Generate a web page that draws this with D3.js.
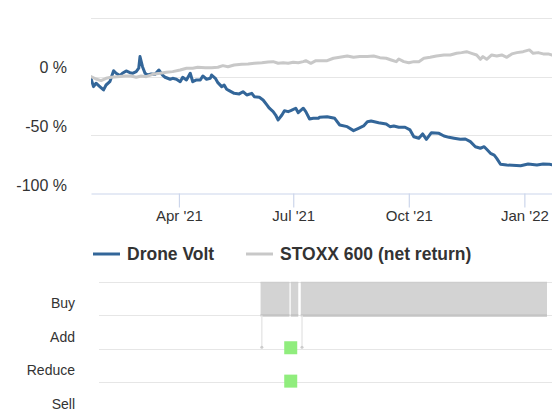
<!DOCTYPE html>
<html><head><meta charset="utf-8">
<script src="https://cdn.jsdelivr.net/npm/d3@7"></script>
<style>body{margin:0;background:#fff;overflow:hidden} svg{display:block;font-family:"Liberation Sans",Arial,sans-serif}</style>
</head><body><svg id="c" width="552" height="410"></svg>
<script>
const droneDates = ["2021-01-21","2021-01-23","2021-01-25","2021-01-28","2021-01-31","2021-02-02","2021-02-05","2021-02-08","2021-02-10","2021-02-13","2021-02-15","2021-02-18","2021-02-21","2021-02-23","2021-02-26","2021-02-28","2021-03-01","2021-03-03","2021-03-05","2021-03-07","2021-03-10","2021-03-13","2021-03-16","2021-03-19","2021-03-21","2021-03-25","2021-03-27","2021-03-30","2021-04-02","2021-04-04","2021-04-07","2021-04-10","2021-04-12","2021-04-15","2021-04-18","2021-04-20","2021-04-23","2021-04-26","2021-04-27","2021-04-30","2021-05-02","2021-05-05","2021-05-07","2021-05-09","2021-05-11","2021-05-15","2021-05-19","2021-05-22","2021-05-25","2021-05-29","2021-05-31","2021-06-04","2021-06-07","2021-06-10","2021-06-12","2021-06-15","2021-06-17","2021-06-19","2021-06-22","2021-06-24","2021-06-27","2021-06-29","2021-07-03","2021-07-05","2021-07-09","2021-07-11","2021-07-14","2021-07-17","2021-07-21","2021-07-22","2021-07-28","2021-08-03","2021-08-07","2021-08-13","2021-08-18","2021-08-22","2021-08-26","2021-08-29","2021-09-01","2021-09-07","2021-09-13","2021-09-16","2021-09-19","2021-09-23","2021-09-28","2021-10-02","2021-10-05","2021-10-09","2021-10-12","2021-10-15","2021-10-19","2021-10-25","2021-10-29","2021-11-02","2021-11-06","2021-11-11","2021-11-15","2021-11-19","2021-11-23","2021-11-27","2021-11-30","2021-12-02","2021-12-05","2021-12-08","2021-12-10","2021-12-13","2021-12-18","2021-12-29","2022-01-04","2022-01-11","2022-01-16","2022-01-21","2022-01-23"];
const droneValues = [-1.4,-8.5,-5.6,-8.5,-11.3,-7.1,-4.3,5.1,2.9,0.9,2.9,4.9,3.4,2.9,4.3,7.2,17.1,8.5,2.9,1.4,2.3,2.0,5.7,1.4,-0.5,-2.2,-1.4,-2.2,-4.3,-0.5,-2.8,2.9,-4.3,-2.8,-2.8,0.6,-2.2,-1.4,1.4,-1.4,-5.1,-8.5,-7.1,-10.7,-11.9,-14.2,-14.7,-12.8,-15.6,-14.2,-17.1,-17.6,-19.9,-24.1,-26.9,-29.8,-32.7,-36.9,-32.7,-29.0,-29.8,-29.0,-26.9,-30.7,-26.9,-29.8,-36.1,-35.5,-35.5,-34.6,-34.1,-35.5,-41.2,-42.6,-46.0,-44.0,-42.0,-38.4,-37.8,-39.2,-40.3,-42.6,-42.0,-43.1,-43.1,-45.4,-51.2,-52.5,-48.8,-53.4,-47.7,-48.3,-50.6,-51.7,-52.5,-53.4,-53.1,-55.4,-59.7,-61.0,-59.7,-61.9,-65.3,-66.8,-69.6,-74.7,-75.3,-75.9,-74.4,-75.3,-74.4,-74.7,-75.0];
const stoxxDates = ["2021-01-21","2021-01-25","2021-01-29","2021-02-02","2021-02-06","2021-02-11","2021-02-17","2021-02-22","2021-02-26","2021-03-02","2021-03-06","2021-03-11","2021-03-17","2021-03-22","2021-03-27","2021-04-02","2021-04-07","2021-04-12","2021-04-16","2021-04-22","2021-04-27","2021-05-02","2021-05-06","2021-05-10","2021-05-15","2021-05-21","2021-05-26","2021-05-31","2021-06-06","2021-06-11","2021-06-15","2021-06-19","2021-06-23","2021-06-27","2021-07-01","2021-07-05","2021-07-09","2021-07-11","2021-07-15","2021-07-19","2021-07-22","2021-07-28","2021-08-02","2021-08-07","2021-08-13","2021-08-18","2021-08-23","2021-08-29","2021-09-03","2021-09-08","2021-09-13","2021-09-17","2021-09-21","2021-09-23","2021-09-27","2021-10-01","2021-10-05","2021-10-09","2021-10-13","2021-10-18","2021-10-23","2021-10-29","2021-11-03","2021-11-08","2021-11-12","2021-11-16","2021-11-20","2021-11-24","2021-11-27","2021-11-29","2021-12-02","2021-12-06","2021-12-10","2021-12-14","2021-12-18","2021-12-22","2021-12-26","2021-12-31","2022-01-05","2022-01-08","2022-01-12","2022-01-16","2022-01-20","2022-01-23"];
const stoxxValues = [0,-2.0,-3.4,-1.4,-0.5,0,0.6,0.6,-0.5,0.6,0,2.0,2.9,3.8,4.3,5.7,7.2,7.2,8.0,7.7,7.7,8.0,9.4,8.5,10.0,10.6,10.8,11.4,11.9,12.5,12.8,11.4,11.9,11.4,12.3,11.9,12.8,13.6,11.4,13.6,13.6,13.6,15.7,16.5,17.6,16.5,17.1,17.1,17.6,16.2,15.7,14.2,12.8,15.1,12.8,11.9,12.8,12.8,15.7,16.5,17.6,18.5,18.5,19.9,20.5,21.3,19.9,18.5,14.8,17.1,14.8,18.5,17.6,18.5,16.5,19.4,20.5,21.3,22.8,19.9,20.5,19.4,19.4,18.5];
const seriesNames = ["Drone Volt","STOXX 600 (net return)"];
const seriesColors = ["#336699","#c8c8c8"];
const yTicks = [50, 0, -50, -100];
const yTickLabels = ["", "0 %", "-50 %", "-100 %"];
const xTicks = ["2021-04-01","2021-07-01","2021-10-01","2022-01-01"];
const xTickLabels = ["Apr '21","Jul '21","Oct '21","Jan '22"];
const ratingCategories = ["Buy","Add","Reduce","Sell"];
const ratingLevels = [1,2,3,4];
const ratingSegStart = ["2021-06-05","2021-06-29","2021-07-07"];
const ratingSegEnd = ["2021-06-28","2021-07-05","2022-01-19"];
const ratingSegLevel = [1,1,1];
const ratingDropDates = ["2021-06-06","2021-07-08"];
const eventDates = ["2021-06-29","2021-06-29"];
const eventLevels = [2,3];

const parse = d3.utcParse("%Y-%m-%d");
const svg = d3.select("#c");
const x = d3.scaleUtc().domain([parse("2021-01-21"), parse("2022-01-23")]).range([91, 552]);
const y = d3.scaleLinear().domain([-100, 50]).range([194, 18]);
const yr = d3.scaleLinear().domain([0, 4]).range([282, 415.5]);

// top gridlines
svg.append("g").selectAll("line").data(yTicks.slice(0,3)).join("line")
  .attr("x1", 91).attr("x2", 552).attr("y1", d => Math.round(y(d)) + 0.5).attr("y2", d => Math.round(y(d)) + 0.5)
  .attr("stroke", "#e6e6e6").attr("stroke-width", 1);
// y labels
svg.append("g").selectAll("text").data(yTicks).join("text")
  .attr("x", 67).attr("y", d => y(d) - 3.5).attr("text-anchor", "end")
  .attr("font-size", 16).attr("fill", "#333").text((d, i) => yTickLabels[i]);

// x axis
const xAxis = d3.axisBottom(x).tickValues(xTicks.map(parse)).tickFormat((d, i) => xTickLabels[i]).tickSize(14).tickSizeOuter(0);
const gx = svg.append("g").attr("transform", "translate(0,193.5)").call(xAxis);
gx.select(".domain").attr("stroke", "#ccd6eb").attr("stroke-width", 1.2);
gx.selectAll(".tick line").attr("stroke", "#ccd6eb").attr("stroke-width", 1.2);
gx.selectAll(".tick text").attr("y", 27.5).attr("dy", 0).attr("font-size", 15).attr("fill", "#333").attr("font-family", "Liberation Sans, Arial, sans-serif");

// lines
svg.append("clipPath").attr("id", "clip").append("rect").attr("x", 91).attr("y", 0).attr("width", 461).attr("height", 200);
const line = d3.line().x(d => x(d[0])).y(d => y(d[1])).curve(d3.curveLinear);
const drone = droneDates.map((d, i) => [parse(d), droneValues[i]]);
const stoxx = stoxxDates.map((d, i) => [parse(d), stoxxValues[i]]);
const lg = svg.append("g").attr("clip-path", "url(#clip)");
[drone, stoxx].forEach((s, i) => {
  lg.append("path").attr("d", line(s)).attr("fill", "none").attr("stroke", seriesColors[i])
    .attr("stroke-width", 3).attr("stroke-linejoin", "round").attr("stroke-linecap", "round");
});

// legend
const legX = [93, 246];
seriesNames.forEach((n, i) => {
  svg.append("line").attr("x1", legX[i]).attr("x2", legX[i] + 27).attr("y1", 254).attr("y2", 254)
    .attr("stroke", seriesColors[i]).attr("stroke-width", 3);
  svg.append("text").attr("x", legX[i] + 34).attr("y", 260).attr("font-size", 17.5).attr("font-weight", "bold")
    .attr("fill", "#333").text(n);
});

// bottom panel gridlines
svg.append("g").selectAll("line").data([0].concat(ratingLevels)).join("line")
  .attr("x1", 99).attr("x2", 552).attr("y1", d => Math.round(yr(d)) + 0.5).attr("y2", d => Math.round(yr(d)) + 0.5)
  .attr("stroke", "#e6e6e6").attr("stroke-width", 1);

// rating area segments
const rg = svg.append("g");
ratingSegStart.forEach((s, i) => {
  const x0 = x(parse(s)), x1 = x(parse(ratingSegEnd[i]));
  rg.append("rect").attr("x", x0).attr("y", yr(0)).attr("width", x1 - x0).attr("height", yr(ratingSegLevel[i]) - yr(0))
    .attr("fill", "#d3d3d3");
  rg.append("line").attr("x1", x0).attr("x2", x1).attr("y1", yr(ratingSegLevel[i])).attr("y2", yr(ratingSegLevel[i]))
    .attr("stroke", "#c4c4c4").attr("stroke-width", 2.5);
  rg.append("line").attr("x1", x0).attr("x2", x1).attr("y1", yr(0) + 0.5).attr("y2", yr(0) + 0.5)
    .attr("stroke", "#cdcdcd").attr("stroke-width", 1.5);
});
ratingDropDates.forEach(d => {
  const xx = x(parse(d));
  rg.append("line").attr("x1", xx).attr("x2", xx).attr("y1", yr(1)).attr("y2", yr(2) - 1.5)
    .attr("stroke", "#e8e8e8").attr("stroke-width", 1.5);
  rg.append("circle").attr("cx", xx).attr("cy", yr(2) - 1.5).attr("r", 1.5).attr("fill", "#cccccc");
});

// event squares
svg.append("g").selectAll("rect").data(eventDates).join("rect")
  .attr("x", d => x(parse(d)) - 6.5).attr("y", (d, i) => yr(eventLevels[i]) - 7.5)
  .attr("width", 13).attr("height", 13).attr("fill", "#90ed7d");

// bottom labels
svg.append("g").selectAll("text").data(ratingCategories).join("text")
  .attr("x", 75).attr("y", (d, i) => yr(ratingLevels[i]) - 7).attr("text-anchor", "end")
  .attr("font-size", 14).attr("fill", "#333").text(d => d);
</script>
</body></html>
